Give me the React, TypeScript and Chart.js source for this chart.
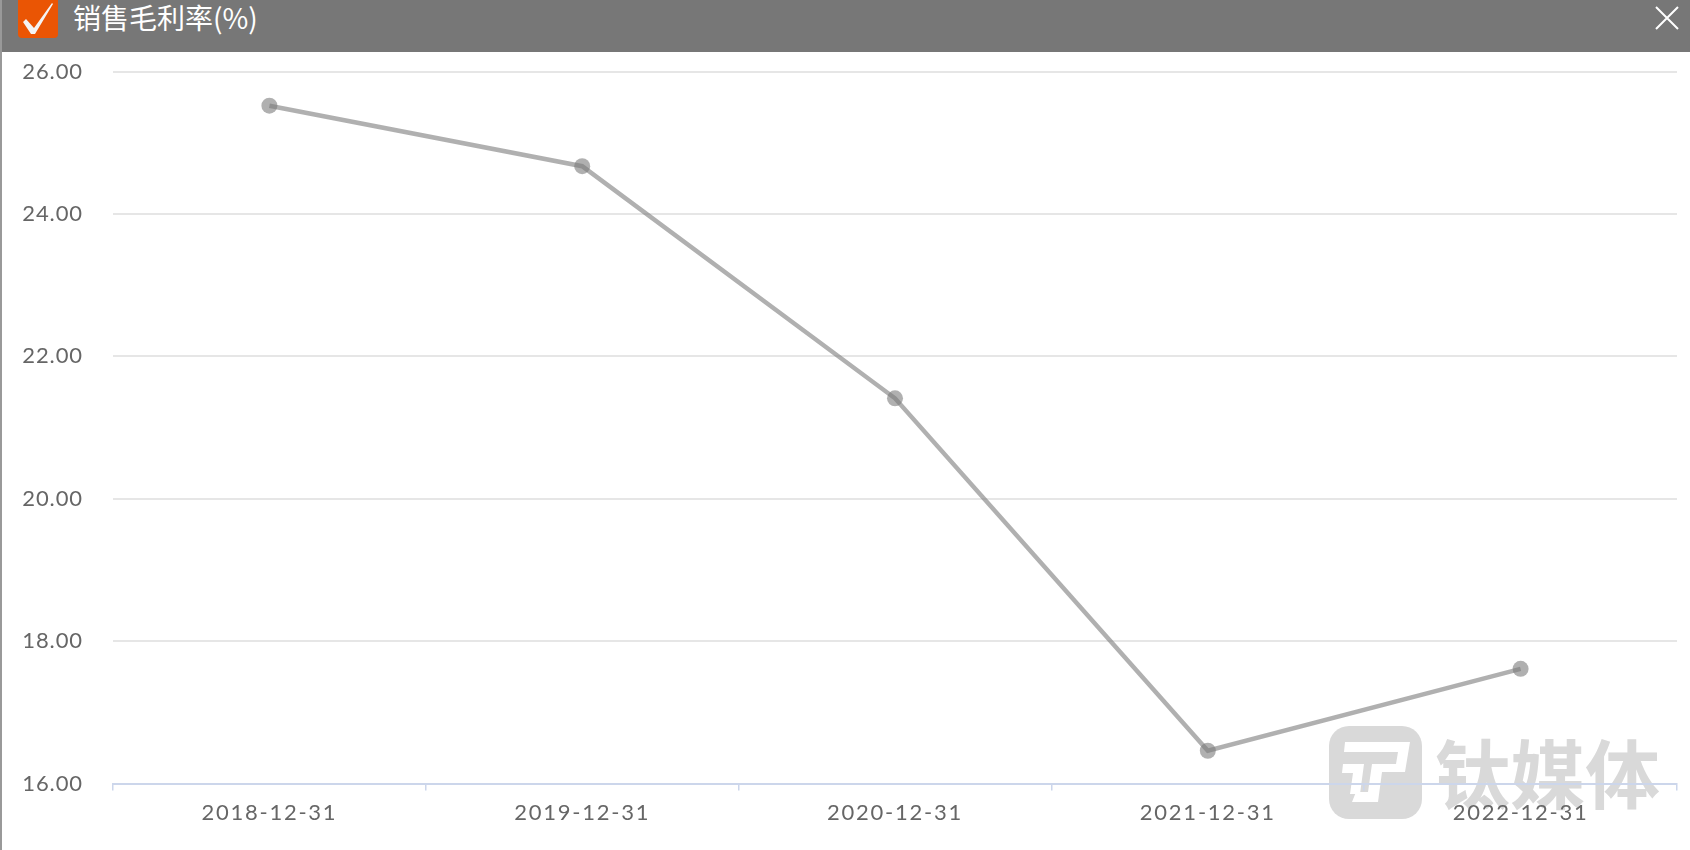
import React, { useEffect, useRef } from "react";
import { Chart, registerables } from "chart.js";

Chart.register(...registerables);

const titleText = "销售毛利率(%)";
const watermarkText = "钛媒体";
const categories = ["2018-12-31", "2019-12-31", "2020-12-31", "2021-12-31", "2022-12-31"];
const marginValues = [25.52, 24.67, 21.41, 16.46, 17.61];
const axisMin = 16;
const axisMax = 26;
const axisStep = 2;
const labelSpacing: Record<string, string> = { x: "1.75px", y: "0.9px" };

const spacedLabels = {
  id: "spacedLabels",
  beforeDraw(chart: any) {
    for (const id of Object.keys(labelSpacing)) {
      const scale = chart.scales[id];
      if (scale.__spaced) continue;
      scale.__spaced = true;
      const original = scale.drawLabels;
      scale.drawLabels = function (area: any) {
        chart.ctx.letterSpacing = labelSpacing[id];
        original.call(scale, area);
        chart.ctx.letterSpacing = "0px";
      };
    }
  },
};

export default function App() {
  const ref = useRef<HTMLCanvasElement>(null);
  useEffect(() => {
    document.body.style.margin = "0";
    document.body.style.background = "#fff";
    const chart = new Chart(ref.current!, {
      type: "line",
      plugins: [spacedLabels],
      data: {
        labels: categories,
        datasets: [
          {
            label: titleText,
            data: marginValues,
            borderColor: "rgba(124,124,124,0.6)",
            backgroundColor: "rgba(124,124,124,0.6)",
            borderWidth: 4.5,
            pointRadius: 8,
            pointBorderWidth: 0,
            pointHoverRadius: 8,
            tension: 0,
            borderJoinStyle: "miter",
          },
        ],
      },
      options: {
        animation: false,
        responsive: false,
        layout: { padding: { top: 71.5, right: 13, bottom: 0, left: 0 } },
        plugins: { legend: { display: false }, title: { display: false }, tooltip: { enabled: false } },
        scales: {
          x: {
            type: "category",
            offset: true,
            afterFit: (s: any) => { s.height = 66.5; },
            border: { color: "#ccd6eb", width: 2 },
            grid: { offset: true, drawOnChartArea: false, drawTicks: true, tickLength: 7, color: "#ccd6eb", lineWidth: 1.5 },
            ticks: { color: "#666", padding: 9, maxRotation: 0, font: { family: "Lato", size: 22 } },
          },
          y: {
            min: axisMin,
            max: axisMax,
            afterFit: (s: any) => { s.width = 113; },
            border: { display: false },
            grid: { color: "#e6e6e6", lineWidth: 2, drawTicks: false },
            ticks: {
              stepSize: axisStep,
              color: "#666",
              padding: 30,
              font: { family: "Lato", size: 22 },
              callback: (v: any) => Number(v).toFixed(2),
            },
          },
        },
      },
    });
    return () => chart.destroy();
  }, []);

  return (
    <div style={{ position: "relative", width: 1690, height: 850, overflow: "hidden", background: "#fff" }}>
      <svg width={1690} height={850} style={{ position: "absolute", left: 0, top: 0 }}>
        <rect x={1329} y={726} width={93} height={93} rx={20} fill="#d9d9d9" />
        <path d="M1345 742 H1410 L1405 772 H1382 L1378 802 H1352 L1356 792 H1368 L1372 764 H1396 L1398 752 H1344 Z" fill="#fff" />
        <path d="M1343 764 H1364 L1360 794 H1350 L1353 773 H1342 Z" fill="#fff" />
        <text x={1435} y={803} fontFamily="'Noto Sans CJK SC'" fontWeight={700} fontSize={75} fill="#d9d9d9">
          {watermarkText}
        </text>
      </svg>
      <canvas ref={ref} width={1690} height={850} style={{ position: "absolute", left: 0, top: 0, display: "block" }} />
      <div style={{ position: "absolute", left: 0, top: 0, width: 2, height: 850, background: "#999" }} />
      <div style={{ position: "absolute", left: 2, top: 0, width: 1688, height: 52, background: "#777" }} />
      <svg width={1690} height={52} style={{ position: "absolute", left: 0, top: 0 }}>
        <rect x={18} y={-4} width={40} height={42} rx={4} fill="#ea5504" />
        <path d="M23 22 L26 19 L34 28 L52 3 L53 4 L35 34 L31 34 Z" fill="#f4f4f4" />
        <path d="M1656 7 L1678 29 M1678 7 L1656 29" stroke="#fff" strokeWidth={2} />
      </svg>
      <div
        style={{
          position: "absolute",
          left: 73,
          top: -1,
          height: 36,
          lineHeight: "36px",
          color: "#fff",
          fontSize: 28,
          fontFamily: "'Noto Sans CJK SC'",
          whiteSpace: "nowrap",
        }}
      >
        {titleText}
      </div>
    </div>
  );
}
